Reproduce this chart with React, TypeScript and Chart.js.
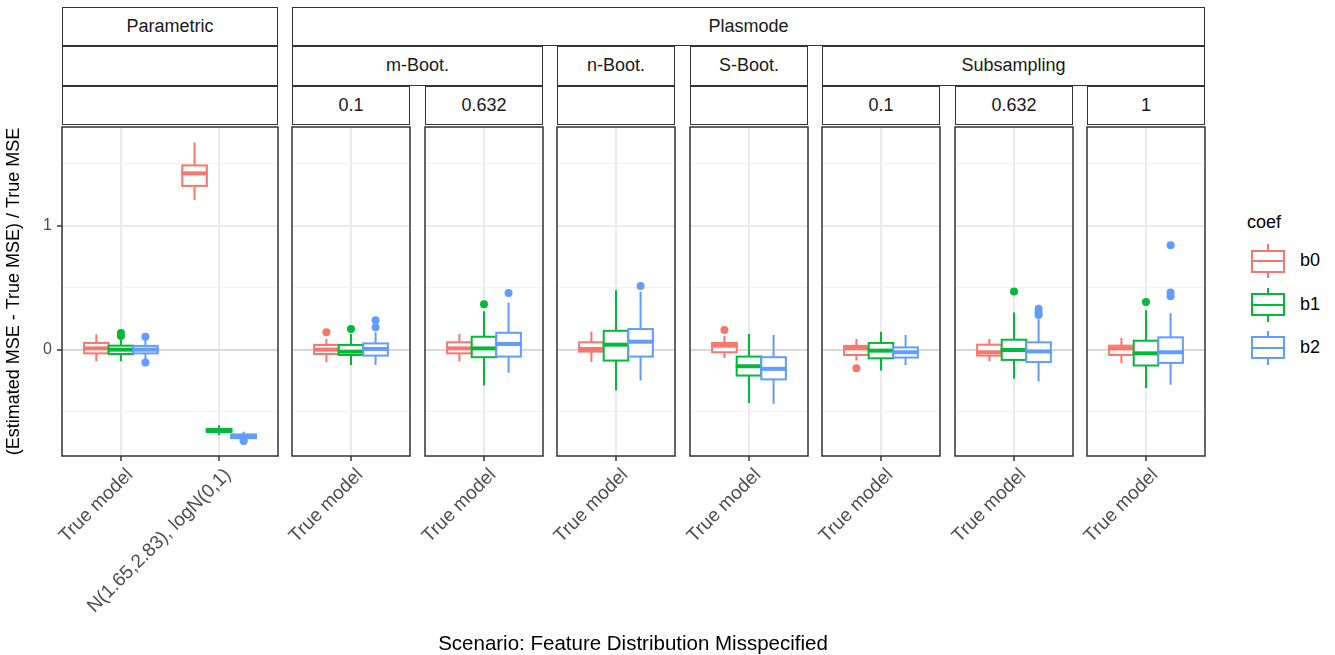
import React, { useEffect, useRef } from 'react';
import { Chart, registerables } from 'chart.js';

Chart.register(...registerables);

// ---------------- data ----------------
const COEF_NAMES = ['b0', 'b1', 'b2'];
const COEF_COLORS = ['#F8766D', '#00BA38', '#619CFF'];

// categories of each facet panel (panels in order: Parametric, m-Boot 0.1, m-Boot 0.632,
// n-Boot, S-Boot, Subsampling 0.1, Subsampling 0.632, Subsampling 1)
const PANEL_CATEGORIES = [
  ['True model', 'N(1.65,2.83), logN(0,1)'],
  ['True model'],
  ['True model'],
  ['True model'],
  ['True model'],
  ['True model'],
  ['True model'],
  ['True model'],
];

// Box statistics per group (groups = all panel categories in order):
// [lower whisker, Q1, median, Q3, upper whisker]
const b0Stats = [
  [-0.094, -0.03, 0.01, 0.054, 0.125],
  [1.208, 1.321, 1.422, 1.486, 1.67],
  [-0.1, -0.035, 0.0, 0.038, 0.086],
  [-0.094, -0.03, 0.01, 0.059, 0.126],
  [-0.1, -0.016, 0.005, 0.059, 0.144],
  [-0.067, -0.021, 0.032, 0.054, 0.112],
  [-0.088, -0.043, 0.01, 0.03, 0.086],
  [-0.094, -0.048, -0.021, 0.04, 0.086],
  [-0.11, -0.043, 0.01, 0.032, 0.094],
];
const b1Stats = [
  [-0.094, -0.035, 0.0, 0.032, 0.08],
  [-0.69, -0.665, -0.65, -0.64, -0.61],
  [-0.123, -0.043, -0.016, 0.038, 0.126],
  [-0.289, -0.061, 0.01, 0.104, 0.31],
  [-0.329, -0.088, 0.04, 0.152, 0.479],
  [-0.43, -0.209, -0.134, -0.056, 0.126],
  [-0.168, -0.07, -0.008, 0.054, 0.144],
  [-0.235, -0.083, -0.003, 0.08, 0.3],
  [-0.31, -0.128, -0.03, 0.072, 0.318],
];
const b2Stats = [
  [-0.08, -0.03, 0.0, 0.03, 0.08],
  [-0.718, -0.714, -0.7, -0.684, -0.663],
  [-0.123, -0.048, 0.005, 0.05, 0.14],
  [-0.187, -0.056, 0.046, 0.136, 0.38],
  [-0.249, -0.056, 0.064, 0.166, 0.47],
  [-0.436, -0.24, -0.155, -0.061, 0.118],
  [-0.123, -0.064, -0.021, 0.018, 0.118],
  [-0.257, -0.1, -0.014, 0.059, 0.246],
  [-0.283, -0.107, -0.021, 0.099, 0.294],
];

// Outliers per group
const b0Outliers = [[], [], [0.14], [], [], [0.158], [-0.15], [], []];
const b1Outliers = [[0.11, 0.135], [], [0.166], [0.366], [], [], [], [0.468], [0.385]];
const b2Outliers = [[0.104, -0.104], [-0.728, -0.737], [0.18, 0.238], [0.457], [0.513], [], [], [0.28, 0.3, 0.33], [0.43, 0.46, 0.842]];

const Y_TICKS = [-0.5, 0, 0.5, 1, 1.5];
const Y_MAJOR_TICKS = [0, 1];
const Y_MIN = -0.858;
const Y_MAX = 1.796;

const Y_TITLE = '(Estimated MSE - True MSE) / True MSE';
const X_TITLE = 'Scenario: Feature Distribution Misspecified';
const LEGEND_TITLE = 'coef';

const STRIP_ROW1 = [
  { label: 'Parametric', from: 0, to: 0 },
  { label: 'Plasmode', from: 1, to: 7 },
];
const STRIP_ROW2 = [
  { label: '', from: 0, to: 0 },
  { label: 'm-Boot.', from: 1, to: 2 },
  { label: 'n-Boot.', from: 3, to: 3 },
  { label: 'S-Boot.', from: 4, to: 4 },
  { label: 'Subsampling', from: 5, to: 7 },
];
const STRIP_ROW3 = ['', '0.1', '0.632', '', '', '0.1', '0.632', '1'];

// ---------------- layout ----------------
const STATS = [b0Stats, b1Stats, b2Stats];
const OUTLIERS = [b0Outliers, b1Outliers, b2Outliers];
const DODGE = [-0.25, 0, 0.25];
const BOX_HALF = 0.125;

const PANEL_LEFT = [62, 292, 425, 557, 690, 822, 955, 1087];
const PANEL_WIDTH = [216, 118, 118, 118, 118, 118, 118, 118];
const PLOT_TOP = 125;
const PLOT_HEIGHT = 331;
const CANVAS_TOP = 123;
const CANVAS_BOTTOM = 655;
const STRIP_TOPS = [6.5, 46, 85.5];
const STRIP_H = 39.5;

const FONT = '"Liberation Sans", Arial, Helvetica, sans-serif';

function PanelChart({ index }: { index: number }) {
  const ref = useRef<HTMLCanvasElement | null>(null);
  const first = index === 0;
  const axisW = first ? PANEL_LEFT[0] : 50;
  const padR = 20;
  const left = PANEL_LEFT[index] - axisW;
  const width = axisW + PANEL_WIDTH[index] + padR;
  const height = CANVAS_BOTTOM - CANVAS_TOP;
  const padT = PLOT_TOP - CANVAS_TOP;
  const xAxisH = height - padT - PLOT_HEIGHT;

  useEffect(() => {
    const cats = PANEL_CATEGORIES[index];
    let groupStart = 0;
    for (let i = 0; i < index; i++) groupStart += PANEL_CATEGORIES[i].length;

    const datasets = COEF_NAMES.map((name, ci) => ({
      label: name,
      data: cats.flatMap((_, gi) =>
        OUTLIERS[ci][groupStart + gi].map((v) => ({ x: gi + 1 + DODGE[ci], y: v }))
      ),
      backgroundColor: COEF_COLORS[ci],
      borderColor: COEF_COLORS[ci],
      pointRadius: 4,
      pointHoverRadius: 4,
      pointBorderWidth: 0,
    }));

    const boxPlugin = {
      id: 'boxes',
      beforeDatasetsDraw(chart: any) {
        const xs = chart.scales.x;
        const ys = chart.scales.y;
        const ctx = chart.ctx;
        ctx.save();
        cats.forEach((_, gi) => {
          COEF_NAMES.forEach((__, ci) => {
            const [lo, q1, med, q3, hi] = STATS[ci][groupStart + gi];
            const c = gi + 1 + DODGE[ci];
            const xc = xs.getPixelForValue(c);
            const xl = xs.getPixelForValue(c - BOX_HALF);
            const xr = xs.getPixelForValue(c + BOX_HALF);
            const yLo = ys.getPixelForValue(lo);
            const yQ1 = ys.getPixelForValue(q1);
            const yMed = ys.getPixelForValue(med);
            const yQ3 = ys.getPixelForValue(q3);
            const yHi = ys.getPixelForValue(hi);
            ctx.strokeStyle = COEF_COLORS[ci];
            ctx.lineCap = 'butt';
            ctx.lineWidth = 2;
            ctx.beginPath();
            ctx.moveTo(xc, yHi);
            ctx.lineTo(xc, yQ3);
            ctx.moveTo(xc, yQ1);
            ctx.lineTo(xc, yLo);
            ctx.stroke();
            ctx.fillStyle = '#FFFFFF';
            ctx.fillRect(xl, yQ3, xr - xl, yQ1 - yQ3);
            ctx.strokeRect(xl, yQ3, xr - xl, yQ1 - yQ3);
            ctx.lineWidth = 4;
            ctx.beginPath();
            ctx.moveTo(xl - 1, yMed);
            ctx.lineTo(xr + 1, yMed);
            ctx.stroke();
          });
        });
        ctx.restore();
      },
      afterDraw(chart: any) {
        const a = chart.chartArea;
        const ctx = chart.ctx;
        ctx.save();
        ctx.strokeStyle = '#333333';
        ctx.lineWidth = 1.5;
        ctx.strokeRect(a.left, a.top, a.right - a.left, a.bottom - a.top);
        ctx.restore();
      },
    };

    const chart = new Chart(ref.current as HTMLCanvasElement, {
      type: 'scatter',
      data: { datasets } as any,
      plugins: [boxPlugin],
      options: {
        animation: false,
        responsive: false,
        maintainAspectRatio: false,
        events: [],
        layout: { padding: { left: 0, right: padR, top: padT, bottom: 0 } },
        plugins: { legend: { display: false }, tooltip: { enabled: false } },
        scales: {
          x: {
            type: 'linear',
            bounds: 'data',
            min: 0.4,
            max: cats.length + 0.6,
            afterBuildTicks: (s: any) => {
              s.ticks = cats.map((_, i) => ({ value: i + 1 }));
            },
            afterFit: (s: any) => {
              s.height = xAxisH;
              s.paddingLeft = 0;
              s.paddingRight = 0;
            },
            ticks: {
              autoSkip: false,
              minRotation: 45,
              maxRotation: 45,
              padding: 3,
              labelOffset: 9,
              color: '#4D4D4D',
              font: { family: FONT, size: 19 },
              callback: (v: any) => cats[Math.round(Number(v)) - 1] ?? '',
            },
            grid: {
              color: '#EBEBEB',
              lineWidth: 2,
              drawTicks: true,
              tickLength: 5,
              tickColor: '#333333',
              tickWidth: 1.5,
            },
            border: { display: false },
          },
          y: {
            type: 'linear',
            bounds: 'data',
            min: Y_MIN,
            max: Y_MAX,
            afterBuildTicks: (s: any) => {
              s.ticks = Y_TICKS.map((v) => ({ value: v }));
            },
            afterFit: (s: any) => {
              s.width = axisW;
              s.paddingTop = 0;
              s.paddingBottom = 0;
            },
            ticks: {
              display: first,
              padding: 5,
              color: '#4D4D4D',
              font: { family: FONT, size: 16 },
              callback: (v: any) => (Y_MAJOR_TICKS.includes(Number(v)) ? String(v) : ''),
            },
            grid: {
              color: (c: any) =>
                c.tick && c.tick.value === 0
                  ? '#D9D9D9'
                  : Y_MAJOR_TICKS.includes(c.tick?.value)
                  ? '#EBEBEB'
                  : '#F2F2F2',
              lineWidth: (c: any) => (Y_MAJOR_TICKS.includes(c.tick?.value) ? 2 : 1),
              drawTicks: first,
              tickLength: 5,
              tickColor: (c: any) => (Y_MAJOR_TICKS.includes(c.tick?.value) ? '#333333' : 'rgba(0,0,0,0)'),
              tickWidth: 1.5,
            },
            border: { display: false },
            title: {
              display: first,
              text: Y_TITLE,
              color: '#000000',
              font: { family: FONT, size: 18 },
              padding: { top: 3, bottom: 0 },
            },
          },
        },
      } as any,
    });
    return () => chart.destroy();
  }, [index]);

  return (
    <canvas
      ref={ref}
      width={width}
      height={height}
      style={{ position: 'absolute', left, top: CANVAS_TOP, width, height }}
    />
  );
}

function Strip({ label, from, to, top }: { label: string; from: number; to: number; top: number }) {
  const left = PANEL_LEFT[from];
  const right = PANEL_LEFT[to] + PANEL_WIDTH[to];
  return (
    <div
      style={{
        position: 'absolute',
        left,
        top,
        width: right - left,
        height: STRIP_H,
        border: '1.5px solid #333333',
        boxSizing: 'border-box',
        background: '#FFFFFF',
        display: 'flex',
        alignItems: 'center',
        justifyContent: 'center',
        font: `18px ${FONT}`,
        color: '#1A1A1A',
      }}
    >
      {label}
    </div>
  );
}

function LegendKey({ color, label, cy }: { color: string; label: string; cy: number }) {
  return (
    <>
      <div style={{ position: 'absolute', left: 1267, top: cy - 17, width: 2, height: 34, background: color }} />
      <div
        style={{
          position: 'absolute',
          left: 1251,
          top: cy - 11.5,
          width: 34,
          height: 23,
          border: `2px solid ${color}`,
          boxSizing: 'border-box',
          background: '#FFFFFF',
        }}
      />
      <div style={{ position: 'absolute', left: 1251, top: cy - 1, width: 34, height: 2, background: color }} />
      <div
        style={{
          position: 'absolute',
          left: 1300,
          top: cy - 11,
          height: 22,
          lineHeight: '22px',
          font: `18px ${FONT}`,
          color: '#000000',
        }}
      >
        {label}
      </div>
    </>
  );
}

export default function App() {
  const legendCenters = [261, 304.5, 347.5];
  return (
    <div style={{ position: 'absolute', left: 0, top: 0, width: 1335, height: 655, background: '#FFFFFF', overflow: 'hidden' }}>
      {STRIP_ROW1.map((s, i) => (
        <Strip key={'r1' + i} label={s.label} from={s.from} to={s.to} top={STRIP_TOPS[0]} />
      ))}
      {STRIP_ROW2.map((s, i) => (
        <Strip key={'r2' + i} label={s.label} from={s.from} to={s.to} top={STRIP_TOPS[1]} />
      ))}
      {STRIP_ROW3.map((s, i) => (
        <Strip key={'r3' + i} label={s} from={i} to={i} top={STRIP_TOPS[2]} />
      ))}
      {PANEL_CATEGORIES.map((_, i) => (
        <PanelChart key={'p' + i} index={i} />
      ))}
      <div
        style={{
          position: 'absolute',
          left: 283,
          width: 700,
          top: 631,
          height: 24,
          lineHeight: '24px',
          textAlign: 'center',
          font: `20.5px ${FONT}`,
          color: '#000000',
        }}
      >
        {X_TITLE}
      </div>
      <div
        style={{
          position: 'absolute',
          left: 1247,
          top: 212,
          height: 22,
          lineHeight: '22px',
          font: `18px ${FONT}`,
          color: '#000000',
        }}
      >
        {LEGEND_TITLE}
      </div>
      {COEF_NAMES.map((n, i) => (
        <LegendKey key={n} color={COEF_COLORS[i]} label={n} cy={legendCenters[i]} />
      ))}
    </div>
  );
}
